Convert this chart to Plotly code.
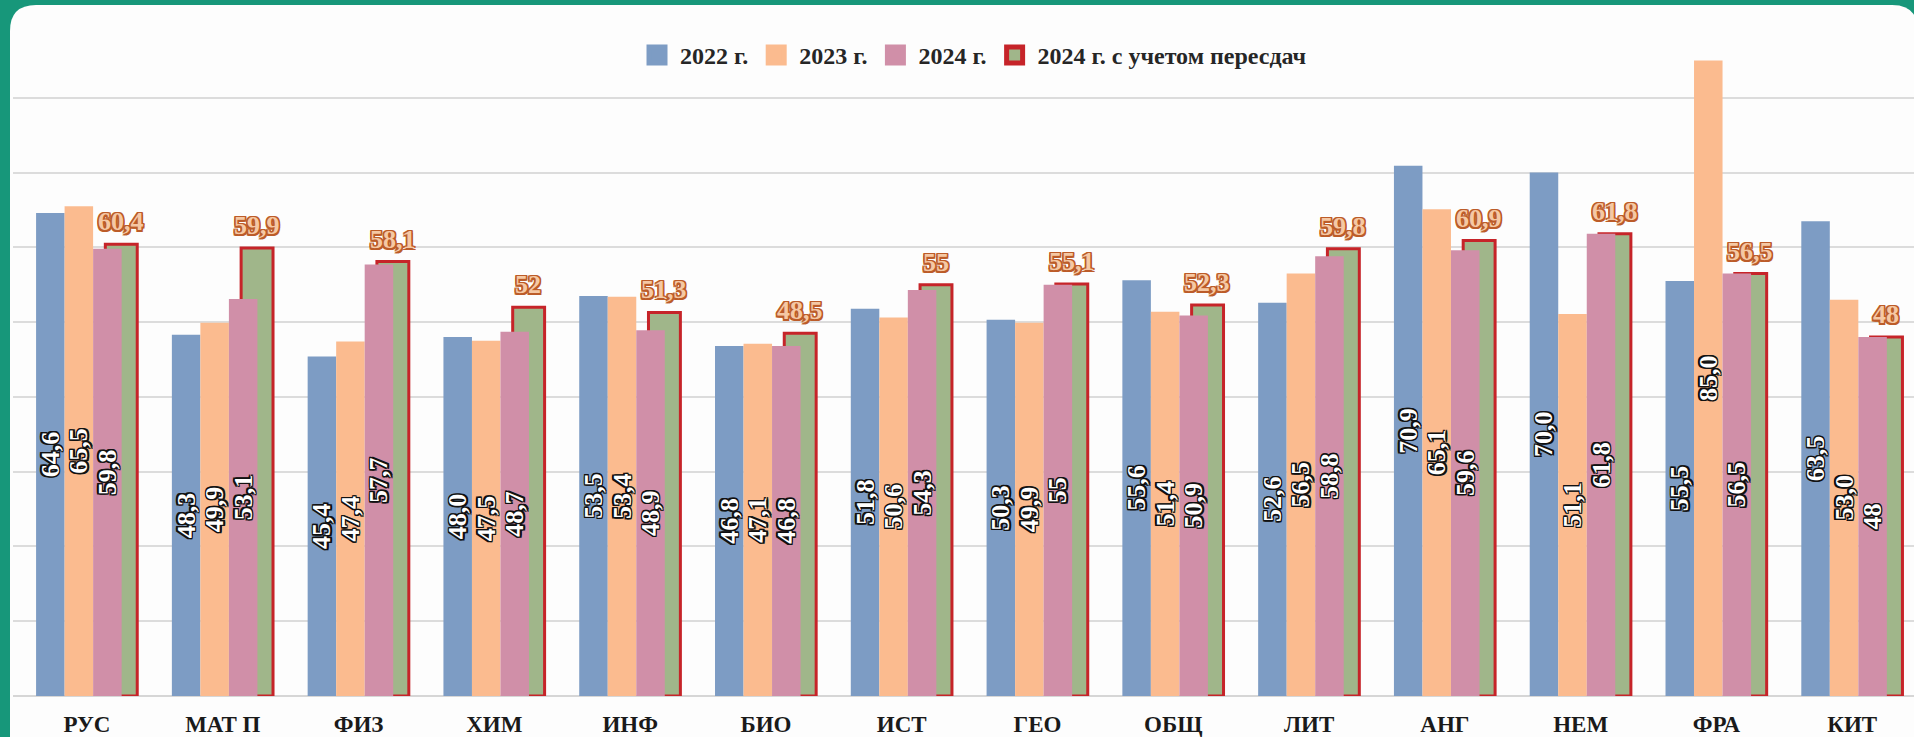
import plotly.graph_objects as go

categories = ["РУС", "МАТ П", "ФИЗ", "ХИМ", "ИНФ", "БИО", "ИСТ", "ГЕО", "ОБЩ", "ЛИТ", "АНГ", "НЕМ", "ФРА", "КИТ"]
y2022 = [64.6, 48.3, 45.4, 48.0, 53.5, 46.8, 51.8, 50.3, 55.6, 52.6, 70.9, 70.0, 55.5, 63.5]
y2023 = [65.5, 49.9, 47.4, 47.5, 53.4, 47.1, 50.6, 49.9, 51.4, 56.5, 65.1, 51.1, 85.0, 53.0]
y2024 = [59.8, 53.1, 57.7, 48.7, 48.9, 46.8, 54.3, 55, 50.9, 58.8, 59.6, 61.8, 56.5, 48]
y2024_retake = [60.4, 59.9, 58.1, 52, 51.3, 48.5, 55, 55.1, 52.3, 59.8, 60.9, 61.8, 56.5, 48]
series_names = ["2022 г.", "2023 г.", "2024 г.", "2024 г. с учетом пересдач"]


def fmt1(v):
    return f"{v:.1f}".replace(".", ",")


def fmtg(v):
    return f"{v:g}".replace(".", ",")


C_BLUE = "#7d9cc4"
C_ORANGE = "#fbbb8f"
C_PINK = "#d08fa8"
C_GREEN = "#a0b68a"
C_RED = "#c62429"
C_TEAL = "#17977a"


def outline(c, w=1.0):
    d = []
    for dx in (-w, 0, w):
        for dy in (-w, 0, w):
            if dx or dy:
                d.append(f"{dx}px {dy}px 0 {c}")
    return ", ".join(d)


inside_font = dict(family="Liberation Serif", size=26, color="white", weight="bold",
                   shadow=outline("#111111", 1.4))
outside_font = dict(family="Liberation Serif", size=26, color="#f5c8a4", weight="bold",
                    shadow=outline("#bc5c29", 1.5))

fig = go.Figure()

common = dict(x=categories, textposition="inside", insidetextanchor="middle",
              textangle=-90, textfont=inside_font, constraintext="none",
              cliponaxis=False, showlegend=False, hoverinfo="x+y")

fig.add_trace(go.Bar(y=y2022, text=[fmt1(v) for v in y2022], name=series_names[0],
                     offset=-0.375, width=0.21, marker=dict(color=C_BLUE, line=dict(width=0)), **common))
fig.add_trace(go.Bar(y=y2023, text=[fmt1(v) for v in y2023], name=series_names[1],
                     offset=-0.165, width=0.21, marker=dict(color=C_ORANGE, line=dict(width=0)), **common))
fig.add_trace(go.Bar(x=categories, y=y2024_retake, name=series_names[3], offset=0.135, width=0.235,
                     marker=dict(color=C_GREEN, line=dict(color=C_RED, width=3)),
                     cliponaxis=False, showlegend=False, hoverinfo="x+y"))
fig.add_trace(go.Bar(y=y2024, text=[fmtg(v) for v in y2024], name=series_names[2],
                     offset=0.045, width=0.21, marker=dict(color=C_PINK, line=dict(width=0)), **common))

# value labels above the outlined "with retakes" bars
for cat, v in zip(categories, y2024_retake):
    fig.add_annotation(x=cat, y=v, xref="x", yref="y", text=fmtg(v), showarrow=False,
                       xanchor="center", yanchor="bottom", xshift=34, yshift=6,
                       font=outside_font)

# legend entries
legend_styles = [(C_BLUE, C_BLUE, 5), (C_ORANGE, C_ORANGE, 5), (C_PINK, C_PINK, 5), (C_GREEN, C_RED, 5)]
for name, (col, lc, lw) in zip(series_names, legend_styles):
    fig.add_trace(go.Scatter(
        x=[None], y=[None], mode="markers", name=name,
        marker=dict(symbol="square", size=16, color=col, line=dict(color=lc, width=lw)),
    ))

# white rounded card on teal frame
L, R, T, B = 13, 1914, 23, 696
W, H = R - L, B - T


def pxx(x):
    return (x - L) / W


def pxy(y):
    return (B - y) / H


cx0, cx1, cy0, cy1, rad = 10, 1918, 5, 760, 26
path = (
    f"M {pxx(cx0)},{pxy(cy0 + rad)} "
    f"Q {pxx(cx0)},{pxy(cy0)} {pxx(cx0 + rad)},{pxy(cy0)} "
    f"L {pxx(cx1 - rad)},{pxy(cy0)} "
    f"Q {pxx(cx1)},{pxy(cy0)} {pxx(cx1)},{pxy(cy0 + rad)} "
    f"L {pxx(cx1)},{pxy(cy1)} L {pxx(cx0)},{pxy(cy1)} Z"
)

fig.update_layout(
    width=1914, height=737,
    margin=dict(l=L, r=1914 - R, t=T, b=737 - B, pad=0),
    paper_bgcolor=C_TEAL,
    plot_bgcolor="rgba(0,0,0,0)",
    barmode="overlay",
    shapes=[dict(type="path", xref="paper", yref="paper", path=path,
                 fillcolor="#fdfdfd", line=dict(width=0), layer="below")],
    legend=dict(orientation="h", x=0.505, xanchor="center", y=0.952, yanchor="middle",
                font=dict(family="Liberation Serif", size=24, color="#262626", weight="bold"),
                itemsizing="trace", bgcolor="rgba(0,0,0,0)", traceorder="normal",
                itemwidth=36),
    xaxis=dict(range=[-0.545, 13.455], showgrid=False, zeroline=False, showline=False,
               ticks="", ticklabelstandoff=12,
               tickfont=dict(family="Liberation Serif", size=23, color="#1a1a1a", weight="bold")),
    yaxis=dict(range=[0, 90], dtick=10, showticklabels=False, ticks="",
               gridcolor="#dcdcdc", gridwidth=2, zeroline=True,
               zerolinecolor="#d6d6d6", zerolinewidth=2),
)

fig.write_html("out.html", config={"displayModeBar": False},
               post_script="document.body.style.margin='0';document.body.style.overflow='hidden';")
